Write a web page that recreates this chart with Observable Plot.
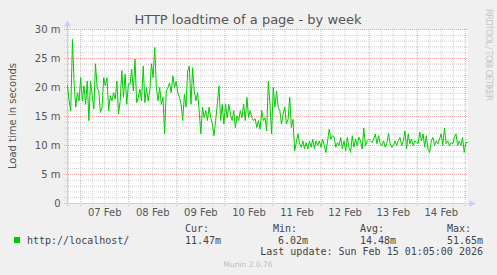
<!DOCTYPE html>
<html>
<head>
<meta charset="utf-8">
<script src="https://cdn.jsdelivr.net/npm/d3@7"></script>
<script src="https://cdn.jsdelivr.net/npm/@observablehq/plot@0.6"></script>
<style>
  html, body { margin: 0; padding: 0; background: #f0f0f0; }
  #chart { width: 497px; height: 275px; }
  svg { display: block; }
</style>
</head>
<body>
<div id="chart"></div>
<script>
// ---- Data (milliseconds; Munin "m" = milli-seconds) ----
const title = "HTTP loadtime of a page - by week";
const yLabel = "Load time in seconds";
const seriesName = "http://localhost/";
const startTime = Date.UTC(2026, 1, 6, 17, 25);
const endTime = Date.UTC(2026, 1, 15, 1, 5);
const loadValues = [
  20.3, 17.7, 16.0, 28.3, 20.8, 16.6, 19.1, 17.7, 21.7, 17.7,
  20.3, 17.1, 21.1, 14.3, 21.1, 18.6, 16.3, 24.1, 20.0, 19.4,
  15.7, 16.6, 21.7, 20.3, 21.7, 16.0, 18.6, 17.7, 19.1, 18.0,
  21.1, 15.4, 17.7, 22.9, 18.3, 22.3, 17.1, 20.6, 20.6, 23.1,
  19.4, 24.9, 17.4, 18.3, 19.7, 17.7, 23.7, 17.4, 20.0, 17.7,
  19.4, 24.1, 21.7, 26.9, 20.0, 17.7, 20.0, 17.1, 18.3, 12.0,
  19.4, 20.0, 20.8, 19.1, 22.0, 20.0, 21.1, 19.1, 18.3, 17.1,
  14.3, 18.8, 16.6, 22.9, 23.7, 17.1, 23.4, 19.4, 17.7, 19.1,
  16.0, 12.0, 16.6, 14.8, 16.0, 14.3, 16.6, 14.8, 13.7, 11.7,
  14.3, 17.1, 20.3, 14.3, 17.1, 13.7, 17.1, 14.8, 17.1, 15.4,
  14.3, 16.0, 13.1, 15.1, 14.3, 16.0, 14.8, 17.1, 14.3, 18.3,
  14.8, 16.0, 14.8, 14.3, 14.6, 13.1, 14.3, 12.8, 16.0, 14.3,
  14.8, 12.5, 21.1, 17.1, 12.0, 20.0, 16.6, 19.4, 16.6, 16.0,
  13.7, 15.4, 16.6, 13.7, 14.5, 18.3, 13.1, 14.5, 9.1, 10.5,
  12.0, 10.3, 9.7, 10.8, 9.4, 10.5, 9.4, 10.8, 9.7, 11.1,
  9.4, 10.8, 10.0, 10.8, 9.7, 11.1, 10.0, 8.8, 10.8, 12.8,
  11.1, 11.7, 11.4, 9.7, 10.5, 10.0, 11.4, 9.4, 10.8, 9.1,
  11.4, 9.7, 8.8, 11.7, 9.7, 11.1, 10.0, 11.4, 10.8, 9.4,
  13.0, 10.0, 10.8, 11.1, 10.8, 10.5, 11.1, 12.0, 10.3, 11.7,
  10.3, 10.0, 10.8, 9.7, 10.3, 12.1, 10.3, 9.7, 10.0, 10.8,
  10.0, 10.9, 11.4, 10.0, 10.8, 12.5, 9.4, 12.0, 10.3, 11.1,
  10.0, 10.8, 10.5, 10.3, 12.3, 10.8, 12.0, 9.7, 11.7, 9.4,
  8.8, 10.8, 11.4, 10.0, 10.8, 10.3, 11.1, 12.0, 10.0, 13.0,
  10.3, 10.8, 10.0, 10.5, 10.3, 11.4, 12.0, 10.0, 10.8, 10.0,
  11.4, 8.8, 10.5, 10.5
];
const yTicks = [0, 5, 10, 15, 20, 25, 30];
const yTickLabels = ["0", "5 m", "10 m", "15 m", "20 m", "25 m", "30 m"];
const xTickDays = [7, 8, 9, 10, 11, 12, 13, 14];
const xTickLabels = ["07 Feb", "08 Feb", "09 Feb", "10 Feb", "11 Feb", "12 Feb", "13 Feb", "14 Feb"];
const statNames = ["Cur:", "Min:", "Avg:", "Max:"];
const statValues = ["11.47m", "6.02m", "14.48m", "51.65m"];
const lastUpdate = "Last update: Sun Feb 15 01:05:00 2026";
const versionText = "Munin 2.0.76";
const watermark = "RRDTOOL / TOBI OETIKER";

// ---- Derived tables ----
const n = loadValues.length;
const data = loadValues.map((v, i) => ({ t: new Date(startTime + i * (endTime - startTime) / (n - 1)), v }));
const minorY = d3.range(1, 30).filter(d => d % 5 !== 0);
const majorY = [5, 10, 15, 20, 25, 30];
const minorX = d3.utcHour.every(6).range(new Date(startTime), new Date(endTime)).filter(d => d.getUTCHours() !== 0);
const majorX = d3.utcDay.range(new Date(startTime), new Date(endTime + 1));
const xTicks = xTickDays.map(d => new Date(Date.UTC(2026, 1, d, 12)));
const x0 = new Date(startTime), x1 = new Date(endTime);

const green = "#00cc00";
const axisColor = "#c6cef6";
const font = "DejaVu Sans, sans-serif";
const mono = "DejaVu Sans Mono, monospace";

const plot = Plot.plot({
  width: 497,
  height: 275,
  marginLeft: 67,
  marginRight: 30,
  marginTop: 29,
  marginBottom: 72,
  style: { background: "transparent", fontFamily: font, fontSize: "10px", color: "#555" },
  x: { type: "utc", domain: [x0, x1] },
  y: { domain: [0, 30] },
  marks: [
    Plot.frame({ fill: "white", stroke: "none" }),
    Plot.ruleY(minorY, { stroke: "#d0d0d0", strokeDasharray: "1,1", insetLeft: -3 }),
    Plot.ruleX(minorX, { stroke: "#d0d0d0", strokeDasharray: "1,1", insetBottom: -3 }),
    Plot.ruleY(majorY, { stroke: "#f0a0a0", strokeDasharray: "1,1", insetLeft: -3 }),
    Plot.ruleX(majorX, { stroke: "#f0a0a0", strokeDasharray: "1,1", insetBottom: -3 }),
    Plot.axisY({ ticks: yTicks, tickFormat: (d) => yTickLabels[yTicks.indexOf(d)], tickSize: 0, tickPadding: 7, fill: "#555", fontSize: 10, label: null }),
    Plot.axisX({ ticks: xTicks, tickFormat: (d, i) => xTickLabels[i], tickSize: 0, tickPadding: 5, fill: "#555", fontSize: 10, label: null }),
    Plot.ruleY([0], { stroke: axisColor, insetLeft: -3, insetRight: -4 }),
    Plot.ruleX([x0], { stroke: axisColor, insetTop: -4, insetBottom: -3 }),
    Plot.dot([[x0, 30]], { symbol: "triangle", r: 2.6, fill: axisColor, stroke: "none", dy: -5 }),
    Plot.dot([[x1, 0]], { symbol: "triangle", r: 2.6, fill: axisColor, stroke: "none", dx: 4, rotate: 90 }),
    Plot.lineY(data, { x: "t", y: "v", stroke: green, strokeWidth: 1 })
  ]
});

const svg = d3.select(plot);
const txt = (x, y, s, opts = {}) => svg.append("text")
  .attr("x", x).attr("y", y)
  .attr("text-anchor", opts.anchor || "start")
  .attr("font-family", opts.family || mono)
  .attr("font-size", opts.size || 10)
  .attr("fill", opts.fill || "#444")
  .text(s);
// Title
txt(248, 24, title, { anchor: "middle", family: font, size: 13, fill: "#555" });
// Y label
svg.append("text").attr("transform", "translate(16,116) rotate(-90)").attr("text-anchor", "middle")
  .attr("font-family", font).attr("font-size", 10).attr("fill", "#555").text(yLabel);
// Watermark
svg.append("text").attr("transform", "translate(486,9) rotate(90)").attr("text-anchor", "start")
  .attr("font-family", font).attr("font-size", 8.5).attr("fill", "#c8c8c8")
  .attr("textLength", 92).attr("lengthAdjust", "spacing").text(watermark);
// Legend
svg.append("rect").attr("x", 14).attr("y", 237).attr("width", 6).attr("height", 6).attr("fill", green);
txt(27, 243.5, seriesName);
const statLeft = [185, 273, 360, 447];
const statRight = [null, 308, null, 483];
statNames.forEach((s, i) => {
  txt(statLeft[i], 231.5, s);
  if (statRight[i] != null) txt(statRight[i], 243.5, statValues[i], { anchor: "end" });
  else txt(statLeft[i], 243.5, statValues[i]);
});
txt(483, 255, lastUpdate, { anchor: "end" });
txt(248, 267, versionText, { anchor: "middle", family: font, size: 7.5, fill: "#bdbdbd" });

document.getElementById("chart").appendChild(plot);
</script>
</body>
</html>
